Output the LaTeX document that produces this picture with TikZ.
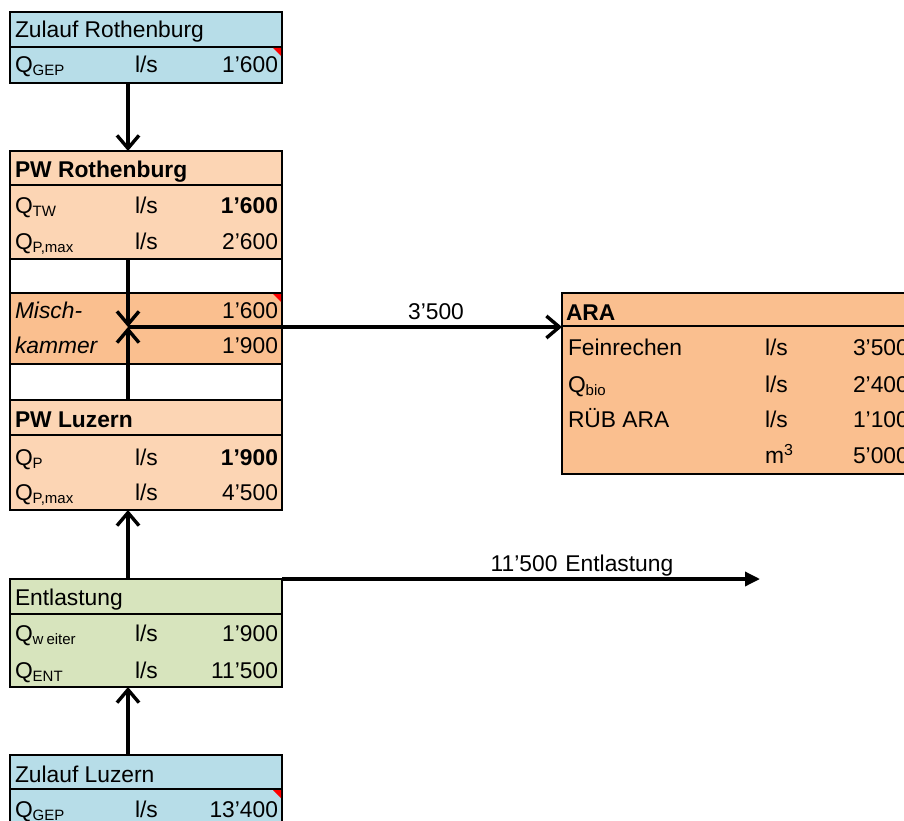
\documentclass[tikz,border=0pt]{standalone}
\usepackage{fontspec}
\setmainfont{Liberation Sans}
\usetikzlibrary{arrows.meta}
\definecolor{cblue}{HTML}{B7DDE8}
\definecolor{corl}{HTML}{FCD5B4}
\definecolor{corm}{HTML}{FABF8F}
\definecolor{cgreen}{HTML}{D7E4BD}
\newcommand\fs{\fontsize{22.8}{27}\selectfont}
\newcommand\sbs[1]{\raisebox{-3pt}{\fontsize{15}{15}\selectfont #1}}
\tikzset{
  box/.style={draw, line width=2.2pt, inner sep=0pt, outer sep=0pt, anchor=north west, minimum width=272pt},
  divl/.style={line width=2pt},
  txt/.style={anchor=base west, inner sep=0pt, outer sep=0pt, font=\fs},
  val/.style={anchor=base east, inner sep=0pt, outer sep=0pt, font=\fs},
  lab/.style={anchor=base, inner sep=0pt, outer sep=0pt, font=\fs},
  arr/.style={line width=3.4pt, -{Straight Barb[length=13pt,width=22pt,line width=3.4pt]}},
  arrf/.style={line width=3.4pt, -{Triangle[length=15pt,width=14pt]}},
  redmark/.style={fill=red}
}
\begin{document}
\begin{tikzpicture}[x=1pt,y=-1pt]
\useasboundingbox (0,0) rectangle (904,821);
\clip (0,0) rectangle (904,821);
\fill[white] (0,0) rectangle (904,821);

% boxes
\node[box, fill=cblue, minimum height=71pt] (zr) at (10,12) {};
\node[box, fill=corl, minimum height=108pt] (pwr) at (10,151) {};
\node[box, fill=white, minimum height=34pt] (w1) at (10,259) {};
\node[box, fill=corm, minimum height=71pt] (mix) at (10,293) {};
\node[box, fill=white, minimum height=36pt] (w2) at (10,364) {};
\node[box, fill=corl, minimum height=110pt] (pwl) at (10,400) {};
\node[box, fill=cgreen, minimum height=108pt] (ent) at (10,579) {};
\node[box, fill=cblue, minimum height=75pt] (zl) at (10,755) {};
\node[box, fill=corm, minimum height=181pt, minimum width=400pt, line width=2.6pt] (ara) at (562,293) {};

% dividers
\draw[divl] ([yshift=-35pt]zr.north west) -- ([yshift=-35pt]zr.north east);
\draw[divl] ([yshift=-34pt]pwr.north west) -- ([yshift=-34pt]pwr.north east);
\draw[divl] ([yshift=-35pt]pwl.north west) -- ([yshift=-35pt]pwl.north east);
\draw[divl] ([yshift=-35pt]ent.north west) -- ([yshift=-35pt]ent.north east);
\draw[divl] ([yshift=-34pt]zl.north west) -- ([yshift=-34pt]zl.north east);
\draw[divl] ([yshift=-33pt]ara.north west) -- ([yshift=-33pt]ara.north east);

% comment markers
\fill[redmark] (273,48) -- (281,48) -- (281,56) -- cycle;
\fill[redmark] (273,294) -- (281,294) -- (281,302) -- cycle;
\fill[redmark] (273,790) -- (281,790) -- (281,798) -- cycle;

% Zulauf Rothenburg
\node[txt] (zrt) at (15,38) {Zulauf Rothenburg};
\node[txt] (zrq) at (15,73) {Q\sbs{GEP}};
\node[txt] (zru) at (135,73) {l/s};
\node[val] (zrv) at (278,73) {1’600};

% PW Rothenburg
\node[txt] (pwrt) at (15,178) {\bfseries PW Rothenburg};
\node[txt] (pwrq1) at (15,213) {Q\sbs{TW}};
\node[txt] (pwru1) at (135,213) {l/s};
\node[val] (pwrv1) at (278,213) {\bfseries 1’600};
\node[txt] (pwrq2) at (15,249) {Q\sbs{P,max}};
\node[txt] (pwru2) at (135,249) {l/s};
\node[val] (pwrv2) at (278,249) {2’600};

% Mischkammer
\node[txt] (mix1) at (15,318) {\itshape Misch-};
\node[txt] (mix2) at (15,353) {\itshape kammer};
\node[val] (mixv1) at (278,318) {1’600};
\node[val] (mixv2) at (278,353) {1’900};

% PW Luzern
\node[txt] (pwlt) at (15,427) {\bfseries PW Luzern};
\node[txt] (pwlq1) at (15,465) {Q\sbs{P}};
\node[txt] (pwlu1) at (135,465) {l/s};
\node[val] (pwlv1) at (278,465) {\bfseries 1’900};
\node[txt] (pwlq2) at (15,500) {Q\sbs{P,max}};
\node[txt] (pwlu2) at (135,500) {l/s};
\node[val] (pwlv2) at (278,500) {4’500};

% Entlastung
\node[txt] (entt) at (15,605) {Entlastung};
\node[txt] (entq1) at (15,641) {Q\sbs{w\hspace{3pt}eiter}};
\node[txt] (entu1) at (135,641) {l/s};
\node[val] (entv1) at (278,641) {1’900};
\node[txt] (entq2) at (15,678) {Q\sbs{ENT}};
\node[txt] (entu2) at (135,678) {l/s};
\node[val] (entv2) at (278,678) {11’500};

% Zulauf Luzern
\node[txt] (zlt) at (15,782) {Zulauf Luzern};
\node[txt] (zlq) at (15,817) {Q\sbs{GEP}};
\node[txt] (zlu) at (135,817) {l/s};
\node[val] (zlv) at (278,817) {13’400};

% ARA
\node[txt] (arat) at (566,320) {\bfseries ARA};
\node[txt] (ara1) at (568,355) {Feinrechen};
\node[txt] (arau1) at (765,355) {l/s};
\node[txt] (arav1) at (853,355) {3’500};
\node[txt] (ara2) at (568,392) {Q\sbs{bio}};
\node[txt] (arau2) at (765,392) {l/s};
\node[txt] (arav2) at (853,392) {2’400};
\node[txt] (ara3) at (568,427) {RÜB ARA};
\node[txt] (arau3) at (765,427) {l/s};
\node[txt] (arav3) at (853,427) {1’100};
\node[txt] (arau4) at (765,463) {m\textsuperscript{3}};
\node[txt] (arav4) at (853,463) {5’000};

% connectors
\coordinate (cx) at (128,0);
\coordinate (mj) at (128,327);
\coordinate (eo) at (760,579);
\draw[arr] (zr.south -| cx) -- (pwr.north -| cx);
\draw[arr] (pwr.south -| cx) -- (mj);
\draw[arr] (pwl.north -| cx) -- (mj);
\draw[arr] (mj) -- (ara.west |- mj);
\draw[arr] (ent.north -| cx) -- (pwl.south -| cx);
\draw[arr] (zl.north -| cx) -- (ent.south -| cx);
\draw[arrf] (ent.north east) -- (eo);

% connector labels
\node[lab] (l1) at (436,319) {3’500};
\node[lab] (l2) at (582,571) {11’500\hspace{8pt}Entlastung};
\end{tikzpicture}
\end{document}
